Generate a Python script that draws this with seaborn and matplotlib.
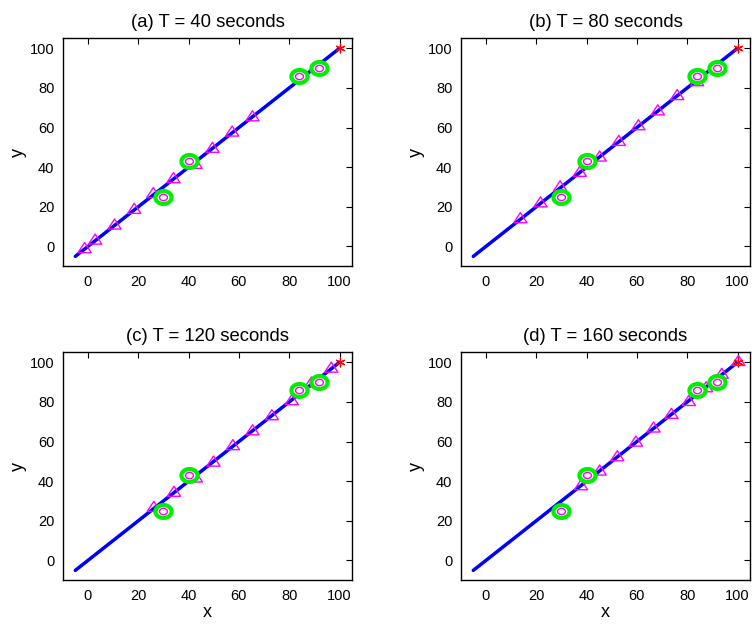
import numpy as np
import matplotlib
matplotlib.use("Agg")
import matplotlib.pyplot as plt
import pandas as pd
import seaborn as sns
from matplotlib.path import Path

sns.set_theme(style="white")
plt.rcParams["font.family"] = ["Liberation Sans", "DejaVu Sans"]
plt.rcParams["text.color"] = "black"
plt.rcParams["axes.labelcolor"] = "black"

# Straight reference path from start to target
path_x = [-5, 100]
path_y = [-5, 100]
target_x = [100]
target_y = [100]

# Obstacle / sensor positions (same in every panel)
sensor_x = [30, 40, 84, 92]
sensor_y = [25, 43, 86, 90]

titles = ["(a) T = 40 seconds", "(b) T = 80 seconds",
          "(c) T = 120 seconds", "(d) T = 160 seconds"]

# Agent positions observed in each time window
agent_a_x = [-1.3, 2.9, 10.6, 18.4, 26.0, 34.0, 42.8, 49.5, 57.3, 65.4]
agent_a_y = [-1.0, 3.3, 10.9, 18.8, 26.8, 34.3, 41.5, 49.6, 57.8, 65.5]
agent_b_x = [13.7, 21.7, 29.5, 37.3, 45.2, 52.8, 60.6, 68.3, 76.0, 83.9]
agent_b_y = [14.1, 22.1, 30.2, 37.5, 45.2, 53.1, 61.0, 68.5, 76.2, 83.2]
agent_c_x = [26.2, 34.2, 42.9, 49.9, 57.6, 65.4, 73.1, 81.0, 88.8, 96.7]
agent_c_y = [26.9, 34.5, 41.7, 49.7, 58.0, 65.5, 73.1, 80.7, 89.6, 97.1]
agent_d_x = [37.8, 45.2, 52.2, 59.6, 66.6, 73.7, 80.6, 87.5, 93.7, 100.3]
agent_d_y = [37.8, 45.2, 52.4, 59.8, 66.9, 73.8, 80.3, 87.2, 94.0, 100.5]

agents = [(agent_a_x, agent_a_y), (agent_b_x, agent_b_y),
          (agent_c_x, agent_c_y), (agent_d_x, agent_d_y)]

ticks = [0, 20, 40, 60, 80, 100]


def ellipse_marker(ratio):
    t = np.linspace(0, 2 * np.pi, 60)
    verts = np.column_stack([np.cos(t), ratio * np.sin(t)])
    return Path(verts, closed=True)


def tri_marker(ratio):
    verts = np.array([[-1.0, -ratio * 0.75], [1.0, -ratio * 0.75],
                      [0.0, ratio * 1.05], [-1.0, -ratio * 0.75]])
    return Path(verts, closed=True)


ring = ellipse_marker(0.8)
tri = tri_marker(0.85)

fig = plt.figure(figsize=(7.52, 6.24), dpi=100)
W, H = 752, 624
boxes = [(62.7, 38.3), (460.7, 38.3), (62.7, 352.3), (460.7, 352.3)]
aw, ah = 289.5, 228

for i, (title, (ax_x, ax_y), (lx, ty)) in enumerate(zip(titles, agents, boxes)):
    ax = fig.add_axes([lx / W, 1 - (ty + ah) / H, aw / W, ah / H])
    line_df = pd.DataFrame({"x": path_x, "y": path_y})
    sns.lineplot(data=line_df, x="x", y="y", ax=ax, color=(0, 0, 1),
                 linewidth=2.5, sort=False, estimator=None, zorder=2)
    sns.scatterplot(x=ax_x, y=ax_y, ax=ax, marker=tri, s=90,
                    facecolor="none", edgecolor="#ff00ff", linewidth=1.0, zorder=3)
    sns.scatterplot(x=sensor_x, y=sensor_y, ax=ax, marker=ring, s=135,
                    facecolor="white", edgecolor="#00ee00", linewidth=3.0, zorder=4)
    sns.scatterplot(x=sensor_x, y=sensor_y, ax=ax, marker=ring, s=32,
                    facecolor="white", edgecolor="#ff00ff", linewidth=1.0, zorder=5)
    sns.scatterplot(x=target_x, y=target_y, ax=ax, marker=(6, 2, 0), s=40,
                    color="red", edgecolor="red", linewidth=0.9, zorder=6)
    ax.set_xlim(-10, 105)
    ax.set_ylim(-10, 105)
    ax.set_xticks(ticks)
    ax.set_yticks(ticks)
    ax.tick_params(direction="in", top=True, right=True, length=4, width=0.8,
                   labelsize=10.5, colors="black", pad=6)
    for sp in ax.spines.values():
        sp.set_visible(True)
        sp.set_color("black")
        sp.set_linewidth(1.0)
    ax.set_title(title, fontsize=13.3, pad=8)
    ax.set_ylabel("y", fontsize=13, labelpad=2)
    ax.set_xlabel("x" if i >= 2 else "", fontsize=13, labelpad=1)

fig.savefig("out.png", dpi=100, facecolor="white")
